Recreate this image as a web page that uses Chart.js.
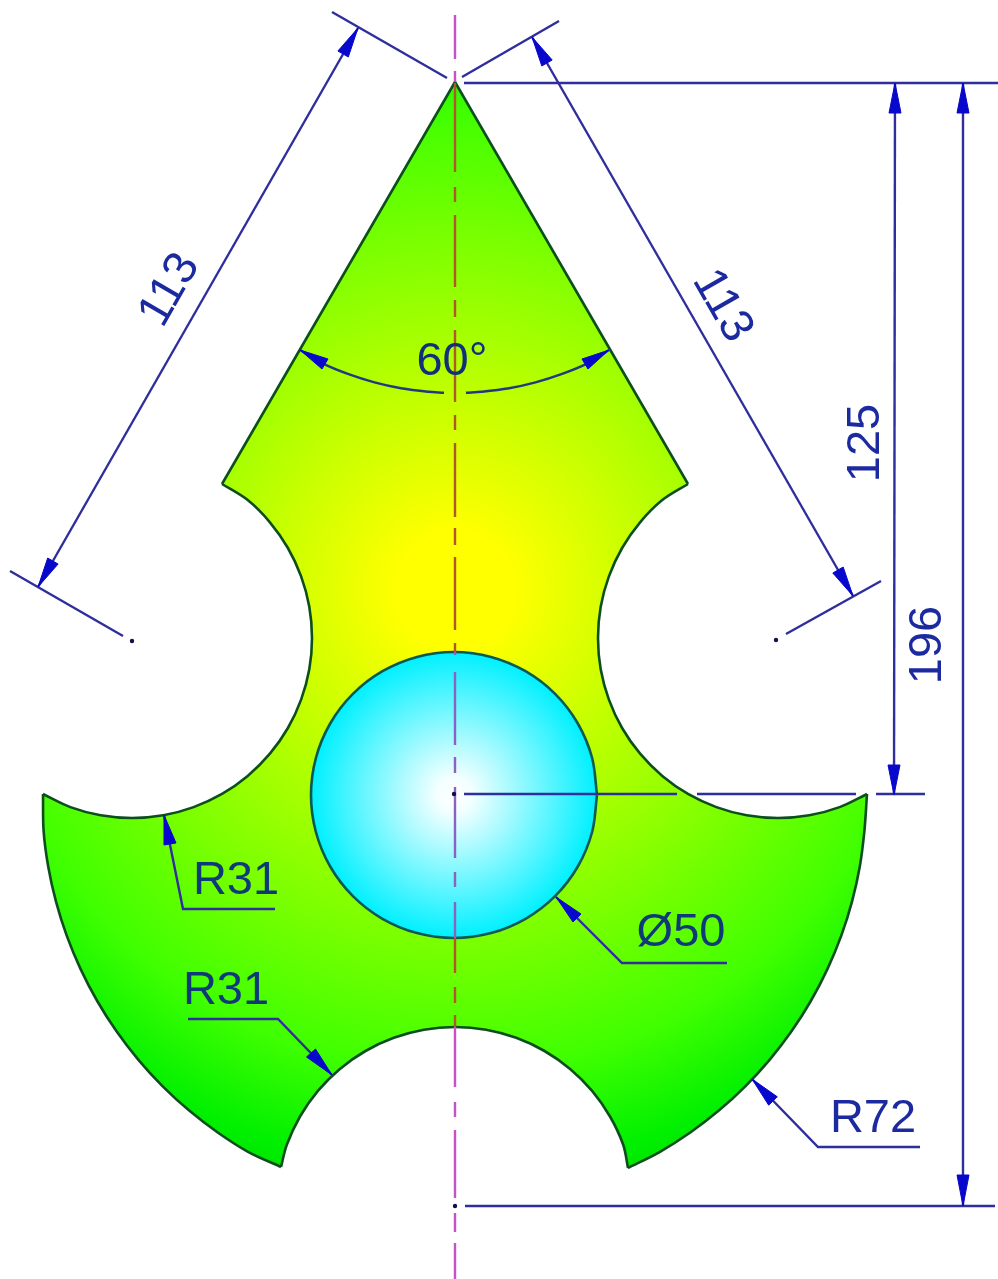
<!DOCTYPE html>
<html>
<head>
<meta charset="utf-8">
<title>Dimensioned part drawing</title>
<script src="https://cdn.jsdelivr.net/npm/chart.js@4/dist/chart.umd.min.js"></script>
<style>
    html, body { margin: 0; padding: 0; background: #fff; }
    #wrap { width: 998px; height: 1279px; }
    #drawing { display: block; filter: blur(0.5px); }
</style>
</head>
<body>
<div id="wrap"><canvas id="drawing" width="998" height="1279"></canvas></div>
<script>
// Part outline in drawing units (pixels of the original)
const rightNotch = [[688,484],[662.3,500.1],[640.1,522.3],[622.1,548],[608.9,576.4],[600.7,606.7],[598,638],[600.7,669.3],[608.9,699.6],[622.1,728],[640.1,753.7],[662.3,775.9],[688,793.9],[716.4,807.1],[746.7,815.3],[778,818],[809.3,815.3],[839.6,807.1],[867,794]];
const rightRim = [[864.4,830.9],[859.8,866.5],[852,901.6],[841.2,935.9],[827.4,969.1],[810.8,1001],[791.5,1031.3],[769.6,1059.8],[745.3,1086.3],[718.8,1110.6],[690.3,1132.5],[660,1151.8],[628,1168]];
const bottomNotch = [[623.2,1144.8],[610,1116.5],[592.1,1090.9],[570.1,1068.9],[544.5,1051],[516.2,1037.8],[486.1,1029.7],[455,1027],[423.9,1029.7],[393.8,1037.8],[365.5,1051],[339.9,1068.9],[317.9,1090.9],[300,1116.5],[286.8,1144.8],[281,1167]];
const leftRim = [[248,1151.8],[217.7,1132.5],[189.2,1110.6],[162.7,1086.3],[138.4,1059.8],[116.5,1031.3],[97.2,1001],[80.6,969.1],[66.8,935.9],[56,901.6],[48.2,866.5],[43.6,830.9],[43,794]];
const leftNotch = [[70.4,807.1],[100.7,815.3],[132,818],[163.3,815.3],[193.6,807.1],[222,793.9],[247.7,775.9],[269.9,753.7],[287.9,728],[301.1,699.6],[309.3,669.3],[312,638],[309.3,606.7],[301.1,576.4],[287.9,548],[269.9,522.3],[247.7,500.1],[222,484]];
const apex = [[455,82]];
const bore = [[597,795],[592.1,832],[577.8,866.5],[555.1,896.1],[525.5,918.8],[491,933.1],[454,938],[417,933.1],[382.5,918.8],[352.9,896.1],[330.2,866.5],[315.9,832],[311,795],[315.9,758],[330.2,723.5],[352.9,693.9],[382.5,671.2],[417,656.9],[454,652],[491,656.9],[525.5,671.2],[555.1,693.9],[577.8,723.5],[592.1,758],[597,795]];

// Centre line dashes as [from y, to y]
const centreX = 455;
const centreDashes = [[15,59],[71,82],[83,172],[187,202],[215,287],[300,317],[330,402],[415,430],[443,517],[528,545],[557,630],[643,652],[652,655],[672,745],[757,773],[787,858],[872,887],[902,938],[938,973],[987,1003],[1015,1027],[1027,1087],[1102,1117],[1130,1198],[1213,1232],[1243,1279]];

// Dimension and extension lines
const dimensionLines = [
    [[332,12],[447,78]],
    [[462,77],[559,21]],
    [[358,28],[38,587]],
    [[10,571],[123,636]],
    [[532,37],[853,596]],
    [[881,581],[786,634]],
    [[464,83],[998,83]],
    [[895,83],[894,795]],
    [[963,83],[963,1206]],
    [[465,1206],[995,1206]],
    [[464,794],[677,794]],
    [[697,794],[856,794]],
    [[876,794],[925,794]]
];
const angleArcLeft = [[300,350],[323.6,363.9],[348.6,374.2],[374.5,382.4],[401,388.3],[427.9,391.8],[444,392.8]];
const angleArcRight = [[466,392.8],[482,391.8],[509,388.3],[535.5,382.4],[561.4,374.2],[586.4,363.9],[609,350]];
const leaderLines = [
    [[164,815],[183,909],[275,909]],
    [[188,1019],[278,1019],[332,1075]],
    [[556,897],[622,963],[727,963]],
    [[752,1079],[818,1147],[920,1147]]
];
const arrowHeads = [
    [[358,28],[348.3,57],[337.9,51]],
    [[38,587],[58.1,564],[47.7,558]],
    [[532,37],[552.2,60],[541.8,66]],
    [[853,596],[843.2,567],[832.8,573]],
    [[895,83],[889,113],[901,113]],
    [[894,795],[888,765],[900,765]],
    [[963,83],[957,113],[969,113]],
    [[963,1206],[957,1175],[969,1175]],
    [[300,350],[328,359],[322,369]],
    [[609,350],[582,359],[588,369]],
    [[164,815],[176,843],[164,845]],
    [[332,1075],[315.5,1049],[306.5,1057]],
    [[556,897],[581,914],[573,922]],
    [[752,1079],[777.3,1096.8],[768.7,1105.2]]
];
const centreMarks = [[454,794],[455,1206],[132,641],[776,640]];

// Dimension texts
const dimensionTexts = ['113', '113', '125', '196', '60°', 'R31', 'R31', 'Ø50', 'R72'];
const textX = [170, 722, 866, 928, 452, 236, 226, 681, 873];
const textY = [290, 306, 443, 645, 362, 881, 991, 933, 1119];
const textAngle = [-60, 60, -90, -90, 0, 0, 0, 0, 0];
const textColors = ['#1c2aa0', '#1c2aa0', '#1c2aa0', '#1c2aa0', '#10307a', '#0f3a78', '#0f3a78', '#0f3a78', '#1c2aa0'];

function toPoints(list) {
    return list.map(function(p) { return { x: p[0], y: p[1] }; });
}

function last(list) {
    return list[list.length - 1];
}

// Radial fill helper, centre and radius stay in data units
function radialFill(cx, cy, radius, stops, fallback) {
    return function(context) {
        const chart = context.chart;
        if (!chart.chartArea) return fallback;
        const px = chart.scales.x.getPixelForValue(cx);
        const py = chart.scales.y.getPixelForValue(cy);
        const gradient = chart.ctx.createRadialGradient(px, py, 0, px, py, radius);
        stops.forEach(function(s) { gradient.addColorStop(s[0], s[1]); });
        return gradient;
    };
}

// Centre line changes tone with what lies under it
function centreColor(ctx) {
    const y = ctx.p0.parsed.y;
    if (y < 83 || y >= 1027) return '#c552c8';
    if (y >= 652 && y < 938) return '#8a62c4';
    return '#b0582c';
}

const centreData = [];
centreDashes.forEach(function(d) {
    centreData.push({ x: centreX, y: d[0] }, { x: centreX, y: d[1] }, { x: centreX, y: null });
});

const lineBlue = '#2e2e9c';
const outlineGreen = '#0c4f1c';
const datasets = [];

datasets.push({
    data: toPoints(centreMarks), showLine: false,
    pointRadius: 2.2, pointBackgroundColor: '#10104a', pointBorderWidth: 0
});
arrowHeads.forEach(function(a) {
    datasets.push({
        data: toPoints(a.concat([a[0]])), showLine: true, fill: 'shape',
        backgroundColor: '#0808cc', borderColor: '#0808cc', borderWidth: 1
    });
});
dimensionLines.concat(leaderLines).forEach(function(l) {
    datasets.push({
        data: toPoints(l), showLine: true, fill: false,
        borderColor: lineBlue, borderWidth: 2.4
    });
});
[angleArcLeft, angleArcRight].forEach(function(l) {
    datasets.push({
        data: toPoints(l), showLine: true, fill: false, tension: 0.34,
        borderColor: '#1f3a80', borderWidth: 2.4
    });
});
datasets.push({
    data: centreData, showLine: true, fill: false, borderWidth: 2.4, borderColor: '#c552c8',
    segment: { borderColor: centreColor }
});
datasets.push({
    data: toPoints(bore), showLine: true, fill: 'shape', tension: 0.34,
    borderColor: '#0b5a52', borderWidth: 2.6,
    backgroundColor: radialFill(454, 795, 143, [[0, '#ffffff'], [0.12, '#f4ffff'], [1, '#00f0ff']], '#80f8ff')
});
// Outline is stroked in pieces so the arcs can curve while the corners stay sharp
[
    [apex[0], rightNotch[0]],
    rightNotch,
    [last(rightNotch)].concat(rightRim),
    [last(rightRim)].concat(bottomNotch),
    [last(bottomNotch)].concat(leftRim),
    [last(leftRim)].concat(leftNotch),
    [last(leftNotch), apex[0]]
].forEach(function(section) {
    datasets.push({
        data: toPoints(section), showLine: true, fill: false, tension: 0.34,
        borderColor: outlineGreen, borderWidth: 2.6
    });
});
datasets.push({
    data: toPoints(apex.concat(rightNotch, rightRim, bottomNotch, leftRim, leftNotch, apex)),
    showLine: true, fill: 'shape', borderWidth: 0,
    backgroundColor: radialFill(455, 590, 600, [[0, '#ffff00'], [0.1, '#ffff00'], [0.8, '#40ff00'], [0.97, '#00f000'], [1, '#00e800']], '#80ff00')
});

// Draws the dimension texts at their data positions
const dimensionTextPlugin = {
    id: 'dimensionText',
    afterDatasetsDraw: function(chart) {
        const ctx = chart.ctx;
        ctx.save();
        ctx.font = '47px "Liberation Sans", Arial, sans-serif';
        ctx.textAlign = 'center';
        ctx.textBaseline = 'middle';
        dimensionTexts.forEach(function(text, i) {
            ctx.save();
            ctx.translate(chart.scales.x.getPixelForValue(textX[i]), chart.scales.y.getPixelForValue(textY[i]));
            ctx.rotate(textAngle[i] * Math.PI / 180);
            ctx.fillStyle = textColors[i];
            ctx.fillText(text, 0, 0);
            ctx.restore();
        });
        ctx.restore();
    }
};

new Chart(document.getElementById('drawing'), {
    type: 'scatter',
    data: { datasets: datasets },
    plugins: [dimensionTextPlugin],
    options: {
        responsive: false,
        animation: false,
        layout: { padding: 0, autoPadding: false },
        elements: { point: { radius: 0, hoverRadius: 0 } },
        scales: {
            x: { type: 'linear', min: 0, max: 998, display: false },
            y: { type: 'linear', min: 0, max: 1279, reverse: true, display: false }
        },
        plugins: {
            legend: { display: false },
            tooltip: { enabled: false }
        }
    }
});
</script>
</body>
</html>
